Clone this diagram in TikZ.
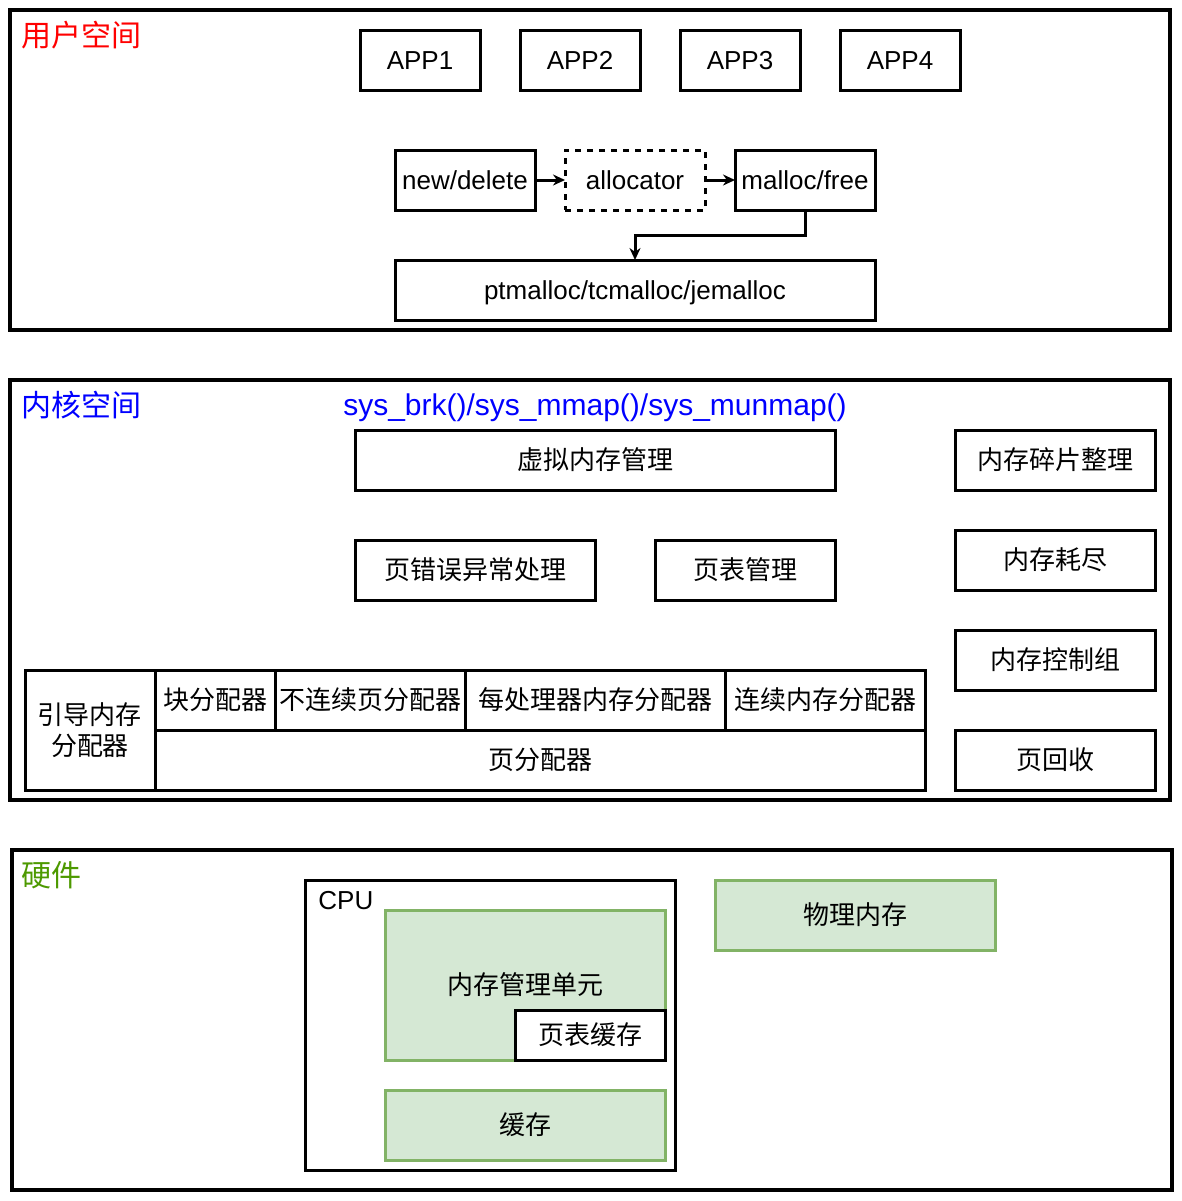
\documentclass[tikz,border=0pt]{standalone}
\usepackage{fontspec}
\setmainfont{Liberation Sans}
\newfontfamily\cjk{Noto Sans CJK SC}
\usetikzlibrary{arrows.meta, positioning}
\definecolor{mmufill}{HTML}{D5E8D4}
\definecolor{mmuedge}{HTML}{82B366}
\definecolor{hwtitle}{HTML}{4D9900}
\begin{document}
\begin{tikzpicture}[
    x=0.5pt, y=-0.5pt,
    box/.style={draw, line width=1.5pt, inner sep=0pt, outer sep=0pt, font=\fontsize{13}{15.5}\selectfont, align=center},
    lat/.style={text height=9.4pt, text depth=0pt},
    zh/.style={font=\cjk\fontsize{13}{15.5}\selectfont},
    green/.style={box, zh, draw=mmuedge, fill=mmufill},
    frame/.style={line width=2.25pt},
    title/.style={anchor=west, inner sep=0pt, font=\cjk\fontsize{15}{18}\selectfont},
    arrow/.style={-{Stealth[length=6pt, width=5.5pt]}, line width=1.5pt}
  ]
    \useasboundingbox (0,0) rectangle (1182,1201);

    % user space
    \draw[frame] (10,10) rectangle (1170,330);
    \node[title, text=red] (usr) at (21,35) {用户空间};
    \node[box, lat, minimum width=60pt, minimum height=30pt] (app1) at (420,60) {APP1};
    \node[box, lat, minimum width=60pt, minimum height=30pt, right=20pt of app1] (app2) {APP2};
    \node[box, lat, minimum width=60pt, minimum height=30pt, right=20pt of app2] (app3) {APP3};
    \node[box, lat, minimum width=60pt, minimum height=30pt, right=20pt of app3] (app4) {APP4};

    \node[box, lat, minimum width=70pt, minimum height=30pt] (newdel) at (465,180) {new/delete};
    \node[box, lat, dashed, minimum width=70pt, minimum height=30pt, right=15pt of newdel] (alloc) {allocator};
    \node[box, lat, minimum width=70pt, minimum height=30pt, right=15pt of alloc] (mfree) {malloc/free};
    \node[box, lat, minimum width=240pt, minimum height=30pt] (ptm) at (635,290) {ptmalloc/tcmalloc/jemalloc};

    \draw[arrow] (newdel) -- (alloc);
    \draw[arrow] (alloc) -- (mfree);
    \draw[arrow] (mfree.south) -- ++(0,25) -| (ptm.north);

    % kernel space
    \draw[frame] (10,380) rectangle (1170,800);
    \node[title, text=blue] (krn) at (21,405) {内核空间};
    \node[inner sep=0pt, text=blue, text height=10.8pt, text depth=0pt, font=\fontsize{15}{18}\selectfont] (sys) at (595,405) {sys\_brk()/sys\_mmap()/sys\_munmap()};
    \node[box, zh, minimum width=240pt, minimum height=30pt] (vmm) at (595,460) {虚拟内存管理};
    \node[box, zh, minimum width=120pt, minimum height=30pt] (pfault) at (475,570) {页错误异常处理};
    \node[box, zh, minimum width=90pt, minimum height=30pt] (ptab) at (745,570) {页表管理};

    \node[box, zh, minimum width=100pt, minimum height=30pt] (frag) at (1055,460) {内存碎片整理};
    \node[box, zh, minimum width=100pt, minimum height=30pt, below=20pt of frag] (oom) {内存耗尽};
    \node[box, zh, minimum width=100pt, minimum height=30pt, below=20pt of oom] (memcg) {内存控制组};
    \node[box, zh, minimum width=100pt, minimum height=30pt, below=20pt of memcg] (reclaim) {页回收};

    \node[box, zh, minimum width=65pt, minimum height=60pt] (bootmem) at (90,730) {引导内存\\分配器};
    \node[box, zh, minimum width=60pt, minimum height=30pt] (slab) at (215,700) {块分配器};
    \node[box, zh, minimum width=95pt, minimum height=30pt] (vmal) at (370,700) {不连续页分配器};
    \node[box, zh, minimum width=130pt, minimum height=30pt] (pcpu) at (595,700) {每处理器内存分配器};
    \node[box, zh, minimum width=100pt, minimum height=30pt] (cma) at (825,700) {连续内存分配器};
    \node[box, zh, minimum width=385pt, minimum height=30pt] (buddy) at (540,760) {页分配器};

    % hardware
    \draw[frame] (12,850) rectangle (1172,1190);
    \node[title, text=hwtitle] (hw) at (21,875) {硬件};
    \node[box, minimum width=185pt, minimum height=145pt] (cpu) at (490,1025) {};
    \node[anchor=west, inner sep=0pt, lat, font=\fontsize{13}{15.5}\selectfont] (cpulbl) at (318,900) {CPU};
    \node[green, minimum width=140pt, minimum height=75pt] (mmu) at (525,985) {内存管理单元};
    \node[box, zh, fill=white, minimum width=75pt, minimum height=25pt] (tlb) at (590,1035) {页表缓存};
    \node[green, minimum width=140pt, minimum height=35pt] (cache) at (525,1125) {缓存};
    \node[green, minimum width=140pt, minimum height=35pt] (phys) at (855,915) {物理内存};
  \end{tikzpicture}
\end{document}
